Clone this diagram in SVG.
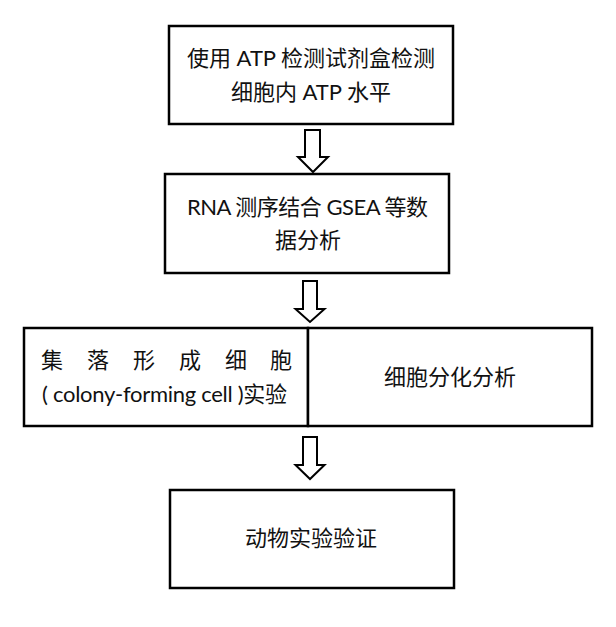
<svg xmlns="http://www.w3.org/2000/svg" width="616" height="627" viewBox="0 0 616 627">
<style>
.box{fill:#fff;stroke:#000;stroke-width:2.5}
.arr{fill:#fff;stroke:#000;stroke-width:2;stroke-linejoin:miter}
.t{font-family:Lato,"Noto Sans CJK SC",sans-serif;font-size:22px;fill:#111}
.c{text-anchor:middle}
</style>
<rect width="616" height="627" fill="#fff"/>
<g id="connectors">
<polygon class="arr" points="305,130 320,130 320,157 328,157 313,172 298,157 305,157"/>
<polygon class="arr" points="303,281 317,281 317,309 324.5,309 310,322 295.5,309 303,309"/>
<polygon class="arr" points="303,437 317,437 317,465 324.5,465 310,479 295.5,465 303,465"/>
</g>
<g id="n1">
<rect class="box" x="169" y="26" width="284" height="98"/>
<text class="t c" x="311" y="66" textLength="248">使用 ATP 检测试剂盒检测</text>
<text class="t c" x="311" y="100">细胞内 ATP 水平</text>
</g>
<g id="n2">
<rect class="box" x="165" y="174" width="284" height="99"/>
<text class="t c" x="307.5" y="215" textLength="241">RNA 测序结合 GSEA 等数</text>
<text class="t c" x="308" y="248">据分析</text>
</g>
<g id="n3">
<rect class="box" x="24" y="328" width="284" height="98"/>
<text class="t" x="41" y="368" >集<tspan x="87">落</tspan><tspan x="133">形</tspan><tspan x="179">成</tspan><tspan x="225">细</tspan><tspan x="270">胞</tspan></text>
<text class="t" x="42" y="402" textLength="245">( colony-forming cell )实验</text>
</g>
<g id="n4">
<rect class="box" x="308" y="328" width="284" height="98"/>
<text class="t c" x="450" y="385">细胞分化分析</text>
</g>
<g id="n5">
<rect class="box" x="170" y="490" width="284" height="98"/>
<text class="t c" x="311" y="546">动物实验验证</text>
</g>
</svg>
